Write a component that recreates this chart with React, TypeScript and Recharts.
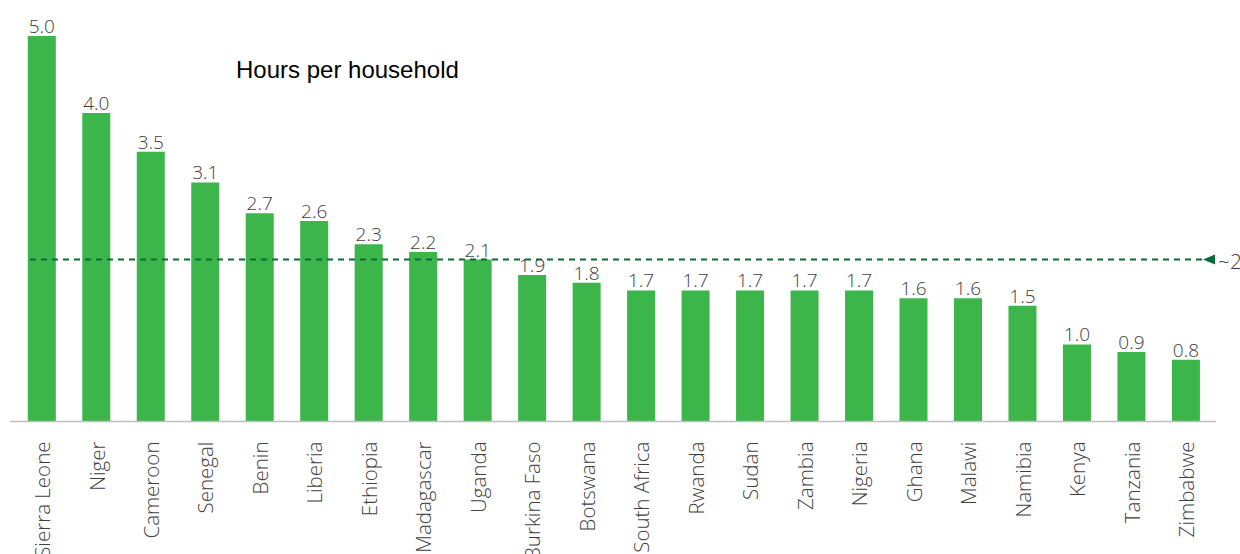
import * as React from "react";
import { Bar, BarChart, LabelList, ReferenceLine, XAxis, YAxis } from "recharts";

// Hours per household, by country (sorted desc)
const countries = [
  "Sierra Leone", "Niger", "Cameroon", "Senegal", "Benin", "Liberia", "Ethiopia",
  "Madagascar", "Uganda", "Burkina Faso", "Botswana", "South Africa", "Rwanda",
  "Sudan", "Zambia", "Nigeria", "Ghana", "Malawi", "Namibia", "Kenya", "Tanzania",
  "Zimbabwe",
];
const hours = [
  5.0, 4.0, 3.5, 3.1, 2.7, 2.6, 2.3, 2.2, 2.1, 1.9, 1.8, 1.7, 1.7, 1.7, 1.7, 1.7,
  1.6, 1.6, 1.5, 1.0, 0.9, 0.8,
];
const averageLine = 2.1;
const averageLabel = "~2";
const title = "Hours per household";

const GREEN = "#3cb54a";
const DARK_GREEN = "#0b6b3a";
const TEXT = "#404040";
const FONT = "'Open Sans', 'Segoe UI', sans-serif";

const data = countries.map((c, i) => ({ country: c, hours: hours[i] }));

function CountryTick(props: any) {
  const { x, y, payload } = props;
  return (
    <text
      x={x}
      y={y}
      transform={`rotate(-90 ${x} ${y})`}
      textAnchor="end"
      dominantBaseline="central"
      fontFamily={FONT}
      fontSize={20.5}
      fontWeight={300}
      fill={TEXT}
    >
      {payload.value}
    </text>
  );
}

// dashed average line, with a small arrow head + label at the right end
function AverageShape(props: any) {
  const { x1, x2, y1 } = props;
  const start = x1 + 20;
  const tip = x2 - 13;
  return (
    <g>
      <line x1={start} x2={tip} y1={y1} y2={y1} stroke={DARK_GREEN} strokeWidth={2} strokeDasharray="6 5" />
      <polygon points={`${tip},${y1} ${tip + 12},${y1 - 5} ${tip + 12},${y1 + 5}`} fill={DARK_GREEN} />
      <text x={tip + 15} y={y1 + 1} dominantBaseline="central" fontFamily={FONT} fontSize={21} fontWeight={300} fill={TEXT}>
        {averageLabel}
      </text>
    </g>
  );
}

export default function App() {
  return (
    <div style={{ position: "absolute", left: 0, top: 0, width: 1240, height: 554, background: "#fff" }}>
      <div
        style={{
          position: "absolute",
          left: 236,
          top: 56,
          fontFamily: "'Liberation Sans', Arial, sans-serif",
          fontSize: 24,
          lineHeight: "28px",
          color: "#000",
          whiteSpace: "nowrap",
          zIndex: 1,
        }}
      >
        {title}
      </div>
      <BarChart
        width={1240}
        height={554}
        data={data}
        margin={{ top: 36, right: 24, bottom: 0, left: 10 }}
        barCategoryGap={0}
      >
        <XAxis
          dataKey="country"
          interval={0}
          height={132.5}
          padding={{ left: 4.8, right: 2.6 }}
          tickLine={false}
          tickSize={0}
          tickMargin={20}
          axisLine={{ stroke: "#bfbfbf", strokeWidth: 1.5 }}
          tick={<CountryTick />}
        />
        <YAxis hide domain={[0, 5]} />
        <ReferenceLine y={averageLine} shape={<AverageShape />} />
        <Bar dataKey="hours" fill={GREEN} barSize={28} isAnimationActive={false}>
          <LabelList
            dataKey="hours"
            position="top"
            offset={3}
            formatter={(v: any) => Number(v).toFixed(1)}
            style={{ fontFamily: FONT, fontSize: 19, fontWeight: 300, fill: TEXT }}
          />
        </Bar>
      </BarChart>
    </div>
  );
}
